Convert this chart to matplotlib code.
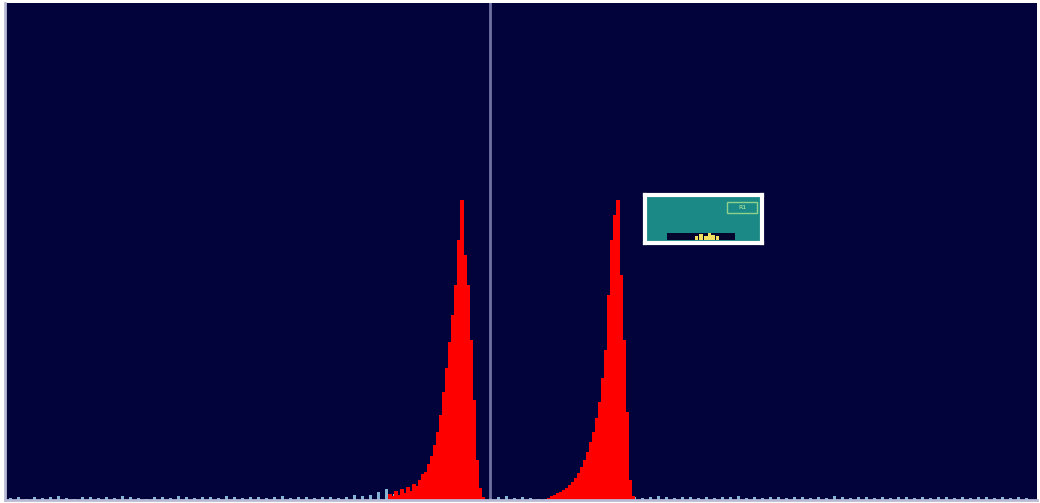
import matplotlib
matplotlib.use("Agg")
import matplotlib.pyplot as plt
from matplotlib.patches import Rectangle

# ---- data (channel positions and event counts) ----
peak1_x = [390, 393, 396, 399, 402, 405, 408, 411, 414, 417, 420, 423, 426, 429,
           432, 435, 438, 441, 444, 447, 450, 453, 456, 459, 462, 465, 468, 471,
           474, 477, 480, 483]
peak1_counts = [6, 4, 9, 5, 11, 7, 13, 9, 16, 14, 20, 26, 28, 36,
                44, 55, 68, 85, 108, 132, 158, 185, 215, 260, 300, 245, 215, 160,
                100, 40, 12, 3]

peak2_x = [549, 552, 555, 558, 561, 564, 567, 570, 573, 576, 579, 582, 585, 588,
           591, 594, 597, 600, 603, 606, 609, 612, 615, 618, 621, 624, 627, 630, 633]
peak2_counts = [2, 4, 5, 7, 8, 10, 12, 15, 18, 22, 27, 33, 40, 48,
                58, 68, 82, 98, 122, 150, 205, 260, 285, 300, 225, 160, 88, 20, 4]

noise_x = list(range(10, 1035, 8))
noise_counts = [2, 3, 1, 3, 2, 3, 4, 2, 1, 3, 3, 2, 3, 2, 4, 3, 2, 1, 3, 3,
                2, 4, 3, 2, 3, 3, 2, 4, 3, 2, 3, 3, 2, 3, 4, 2, 3, 3, 2, 3,
                3, 2, 3, 5, 4, 5, 8, 11, 6, 3, 2, 1, 1, 1, 2, 3, 3, 2, 3, 3,
                2, 3, 4, 2, 3, 2, 1, 1, 1, 1, 2, 3, 3, 2, 3, 4, 2, 3, 3, 2,
                3, 4, 3, 2, 3, 3, 2, 3, 2, 3, 3, 4, 2, 3, 2, 3, 3, 2, 3, 3,
                2, 3, 2, 4, 3, 2, 3, 3, 2, 3, 2, 3, 3, 2, 3, 2, 3, 3, 2, 3,
                2, 3, 3, 2, 3, 2, 3, 2]

gate_x = 490
inset_label = "R1"
inset_x = [0.44, 0.48, 0.52, 0.55, 0.58, 0.62]
inset_counts = [0.2, 0.6, 0.3, 0.8, 0.4, 0.2]

# ---- figure ----
W, H = 1040, 503
fig = plt.figure(figsize=(W / 100, H / 100), dpi=100, facecolor="white")
ax = fig.add_axes([5 / W, 3 / H, 1032 / W, 497 / H])
ax.set_facecolor("#02033a")
ax.set_xlim(5, 1037)
ax.set_ylim(0, 497)

nx = noise_x[:len(noise_counts)]
ax.bar(nx, noise_counts, width=3, color="#86b4d4", align="center", linewidth=0)
ax.bar(peak1_x, peak1_counts, width=3.05, color="#ff0000", align="center", linewidth=0)
ax.bar(peak2_x, peak2_counts, width=3.05, color="#ff0000", align="center", linewidth=0)

ax.axvline(gate_x, color="#6f72a2", lw=2)

for s in ["top", "right"]:
    ax.spines[s].set_visible(False)
for s in ["left", "bottom"]:
    ax.spines[s].set_color("#b9bbd6")
    ax.spines[s].set_linewidth(2)
ax.set_xticks([])
ax.set_yticks([])

# inset box
ins = ax.inset_axes([645, 500 - 243, 117, 48], transform=ax.transData)
ins.set_xlim(0, 1)
ins.set_ylim(0, 1)
ins.set_facecolor("#1b8a86")
for s in ins.spines.values():
    s.set_color("white")
    s.set_linewidth(3)
ins.set_xticks([])
ins.set_yticks([])
ins.add_patch(Rectangle((0.70, 0.62), 0.26, 0.24, fill=False, ec="#8fd08a", lw=1))
ins.text(0.83, 0.74, inset_label, color="#c8f0a0", fontsize=4.5, ha="center", va="center")
ins.add_patch(Rectangle((0.19, 0.06), 0.58, 0.15, color="#05062e", lw=0))
ins.bar(inset_x, [0.06 + 0.12 * v for v in inset_counts],
        width=0.03, bottom=0.06, color="#f2e060", linewidth=0)

fig.savefig("out.png", dpi=100, facecolor="white")
